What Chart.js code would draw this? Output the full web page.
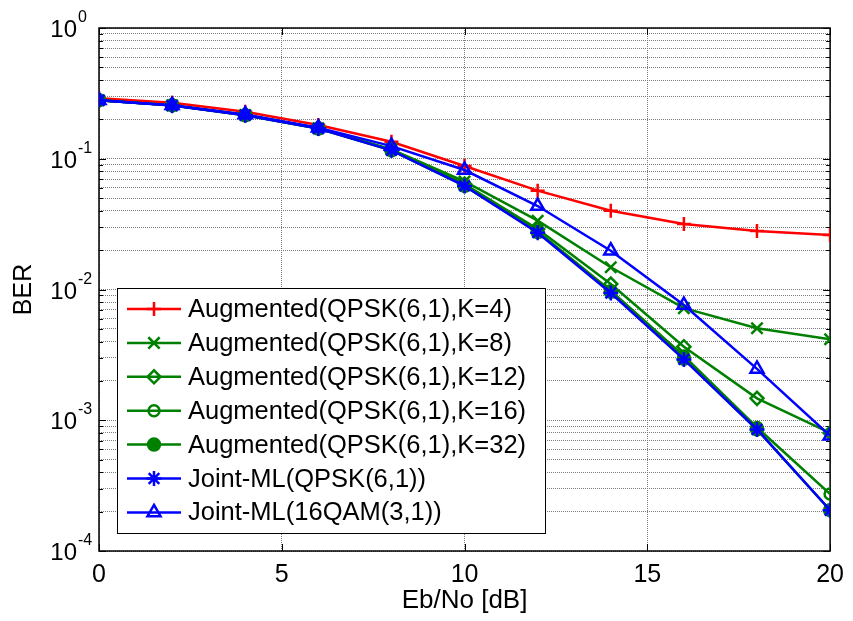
<!DOCTYPE html>
<html><head><meta charset="utf-8">
<script src="https://cdn.jsdelivr.net/npm/chart.js@4.4.1/dist/chart.umd.min.js"></script>
<style>html,body{margin:0;padding:0;background:#fff;overflow:hidden}canvas{display:block}</style>
</head><body>
<canvas id="c" width="853" height="621"></canvas>
<script>
// ---- data ----
const ebno = [0, 2, 4, 6, 8, 10, 12, 14, 16, 18, 20];
const berAugK4  = [0.290, 0.268, 0.229, 0.181, 0.135, 0.088, 0.057, 0.040, 0.0317, 0.0280, 0.0261];
const berAugK8  = [0.280, 0.256, 0.216, 0.171, 0.118, 0.067, 0.0336, 0.0148, 0.0072, 0.00505, 0.00416];
const berAugK12 = [0.280, 0.256, 0.216, 0.171, 0.117, 0.064, 0.0290, 0.0110, 0.00365, 0.00147, 0.00080];
const berAugK16 = [0.280, 0.256, 0.216, 0.171, 0.117, 0.063, 0.0278, 0.0098, 0.00310, 0.00088, 0.000273];
const berAugK32 = [0.280, 0.256, 0.215, 0.170, 0.116, 0.062, 0.0275, 0.0096, 0.00295, 0.00085, 0.000205];
const berJointQPSK  = [0.280, 0.255, 0.215, 0.170, 0.116, 0.062, 0.0272, 0.0094, 0.00292, 0.00085, 0.000205];
const berJoint16QAM = [0.280, 0.257, 0.218, 0.173, 0.125, 0.082, 0.0435, 0.0198, 0.0076, 0.00247, 0.00076];
const seriesLabels = [
  'Augmented(QPSK(6,1),K=4)',
  'Augmented(QPSK(6,1),K=8)',
  'Augmented(QPSK(6,1),K=12)',
  'Augmented(QPSK(6,1),K=16)',
  'Augmented(QPSK(6,1),K=32)',
  'Joint-ML(QPSK(6,1))',
  'Joint-ML(16QAM(3,1))'
];
const xTickValues = [0, 5, 10, 15, 20];
const yDecades = [-4, -3, -2, -1, 0];
const xTitle = 'Eb/No [dB]';
const yTitle = 'BER';

// ---- styles ----
const FONT = "Arial, 'Liberation Sans', sans-serif";
const seriesValues = [berAugK4, berAugK8, berAugK12, berAugK16, berAugK32, berJointQPSK, berJoint16QAM];
const styles = [
  {color: '#ff0000', ps: 'cross',    r: 7,   filled: false},
  {color: '#008000', ps: 'crossRot', r: 8,   filled: false},
  {color: '#008000', ps: 'rectRot',  r: 6.5, filled: false},
  {color: '#008000', ps: 'circle',   r: 5.5, filled: false},
  {color: '#008000', ps: 'circle',   r: 6,   filled: true},
  {color: '#0000ff', ps: 'star',     r: 7.5, filled: false},
  {color: '#0000ff', ps: 'triangle', r: 7.5, filled: false}
];

const datasets = seriesValues.map((vals, i) => {
  const s = styles[i];
  return {
    label: seriesLabels[i],
    data: ebno.map((x, j) => ({x: x, y: vals[j]})),
    borderColor: s.color,
    backgroundColor: s.filled ? s.color : 'rgba(0,0,0,0)',
    pointBorderColor: s.color,
    pointBackgroundColor: s.filled ? s.color : 'rgba(0,0,0,0)',
    pointStyle: s.ps,
    pointRadius: s.r,
    pointHoverRadius: s.r,
    pointBorderWidth: 2.5,
    borderWidth: 2.5,
    tension: 0,
    fill: false,
    order: seriesValues.length - i
  };
});

const decorPlugin = {
  id: 'decor',
  beforeDatasetsDraw(chart) {
    const ctx = chart.ctx;
    const a = chart.chartArea;
    const xs = chart.scales.x, ys = chart.scales.y;
    ctx.save();
    ctx.strokeStyle = '#000';
    ctx.lineWidth = 1.5;
    ctx.strokeRect(a.left, a.top, a.right - a.left, a.bottom - a.top);
    ctx.lineWidth = 1;
    ctx.beginPath();
    xTickValues.forEach(v => {
      const px = Math.round(xs.getPixelForValue(v)) + 0.5;
      ctx.moveTo(px, a.bottom); ctx.lineTo(px, a.bottom - 7);
      ctx.moveTo(px, a.top); ctx.lineTo(px, a.top + 7);
    });
    yDecades.forEach(e => {
      for (let m = 1; m <= 9; m++) {
        const v = m * Math.pow(10, e);
        if (v > 1.0000001) break;
        const py = Math.round(ys.getPixelForValue(v)) + 0.5;
        const len = m === 1 ? 7 : 4;
        ctx.moveTo(a.left, py); ctx.lineTo(a.left + len, py);
        ctx.moveTo(a.right, py); ctx.lineTo(a.right - len, py);
      }
    });
    ctx.stroke();
    ctx.fillStyle = '#000';
    yDecades.forEach(e => {
      const py = ys.getPixelForValue(Math.pow(10, e));
      ctx.font = '24px ' + FONT;
      ctx.textAlign = 'right';
      ctx.textBaseline = 'alphabetic';
      ctx.fillText('10', 77, py + 9);
      ctx.font = '16px ' + FONT;
      ctx.textAlign = 'left';
      ctx.fillText(String(e), 78, py - 6);
    });
    ctx.restore();
  },
  afterDatasetsDraw(chart) {
    const ctx = chart.ctx;
    const bx = 117, by = 288, bw = 545 - 117, bh = 533 - 288;
    ctx.save();
    ctx.fillStyle = '#fff';
    ctx.fillRect(bx, by, bw, bh);
    ctx.strokeStyle = '#000';
    ctx.lineWidth = 1;
    ctx.strokeRect(bx + 0.5, by + 0.5, bw, bh);
    chart.data.datasets.forEach((ds, i) => {
      const cy = 309 + i * 33.9;
      ctx.strokeStyle = ds.borderColor;
      ctx.lineWidth = 2.5;
      ctx.beginPath();
      ctx.moveTo(127, cy); ctx.lineTo(181, cy);
      ctx.stroke();
      if (Chart.helpers && Chart.helpers.drawPoint) {
        ctx.fillStyle = ds.pointBackgroundColor;
        ctx.strokeStyle = ds.pointBorderColor;
        ctx.lineWidth = 2.5;
        Chart.helpers.drawPoint(ctx, {pointStyle: ds.pointStyle, radius: ds.pointRadius, rotation: 0, borderWidth: 2.5}, 154, cy);
      }
      ctx.fillStyle = '#000';
      ctx.font = '25.5px ' + FONT;
      ctx.textAlign = 'left';
      ctx.textBaseline = 'middle';
      ctx.fillText(ds.label, 188, cy + 1);
    });
    ctx.restore();
  }
};

new Chart(document.getElementById('c'), {
  type: 'line',
  data: {datasets: datasets},
  options: {
    responsive: false,
    animation: false,
    devicePixelRatio: 1,
    layout: {padding: {top: 28, right: 19, left: 0, bottom: 0}},
    plugins: {legend: {display: false}, tooltip: {enabled: false}},
    scales: {
      x: {
        type: 'linear', min: 0, max: 20,
        afterBuildTicks(scale) { scale.ticks = xTickValues.map(v => ({value: v})); },
        afterFit(scale) { scale.height = 70; },
        grid: {color: '#7a7a7a', lineWidth: 1, drawTicks: false},
        border: {display: false, dash: [1, 1]},
        ticks: {color: '#000', font: {family: FONT, size: 25}, padding: 9, maxRotation: 0, autoSkip: false},
        title: {display: true, text: xTitle, color: '#000', font: {family: FONT, size: 26}, padding: {top: 0, bottom: 5}}
      },
      y: {
        type: 'logarithmic', min: 1e-4, max: 1,
        afterBuildTicks(scale) {
          const t = [];
          yDecades.forEach(e => {
            for (let m = 1; m <= 9; m++) {
              const v = m * Math.pow(10, e);
              if (v > 1.0000001) break;
              t.push({value: v, major: m === 1});
            }
          });
          scale.ticks = t;
        },
        afterFit(scale) { scale.width = 99; },
        grid: {color: '#7a7a7a', lineWidth: 1, drawTicks: false},
        border: {display: false, dash: [1, 1]},
        ticks: {display: false},
        title: {display: true, text: yTitle, color: '#000', font: {family: FONT, size: 25}, padding: {top: 9, bottom: 0}}
      }
    }
  },
  plugins: [decorPlugin]
});
</script>
</body></html>
